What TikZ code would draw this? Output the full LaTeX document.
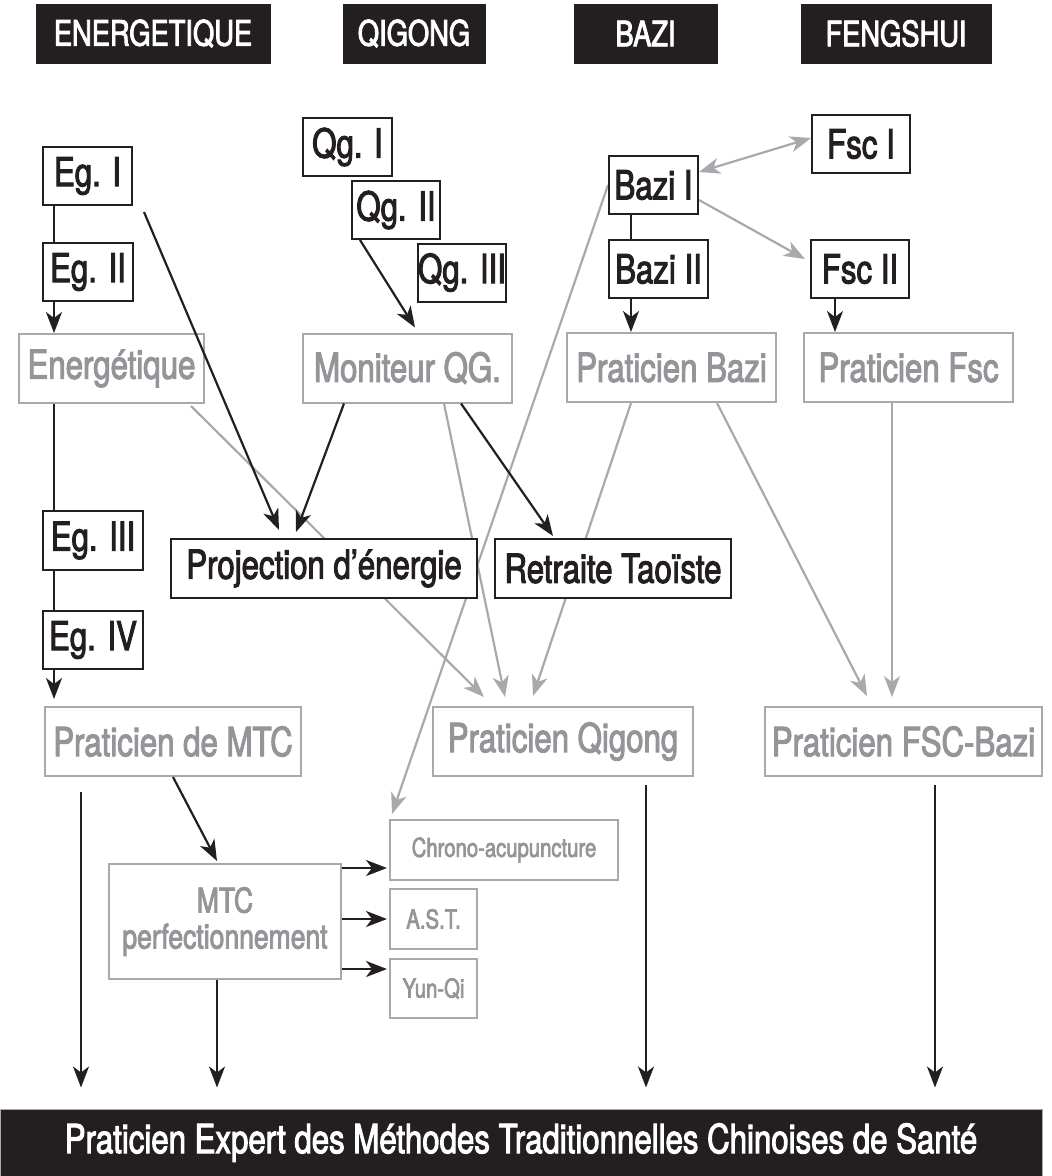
\documentclass[tikz,border=0pt]{standalone}
\usepackage{fontspec}
\setmainfont[FakeStretch=0.8]{TeX Gyre Heros}
\newfontfamily\moyen[FakeStretch=0.78,FakeBold=2.5]{TeX Gyre Heros}
\usetikzlibrary{arrows.meta,calc,backgrounds}
\definecolor{noir}{RGB}{35,31,32}
\definecolor{gristexte}{RGB}{147,149,152}
\definecolor{grisligne}{RGB}{167,169,172}
\tikzset{
  titre/.style={fill=noir,draw=noir,line width=1pt,text=white,inner sep=0pt,
    minimum height=59pt,font=\moyen\fontsize{35}{40}\selectfont},
  cours/.style={draw=noir,fill=white,line width=2pt,text=noir,inner sep=0pt,
    minimum height=58pt,font=\moyen\fontsize{40}{42}\selectfont},
  niveau/.style={draw=grisligne,fill=white,line width=2pt,text=gristexte,inner sep=0pt,
    minimum height=69pt,font=\moyen\fontsize{40}{42}\selectfont},
  option/.style={draw=grisligne,fill=white,line width=2pt,text=gristexte,inner sep=0pt,
    minimum height=60pt,font=\moyen\fontsize{26}{28}\selectfont},
  lien/.style={line width=2.2pt,draw=noir},
  fleche/.style={line width=2.2pt,draw=noir,-{Stealth[length=21pt,width=16pt,inset=6pt]}},
  flecheg/.style={line width=2.2pt,draw=grisligne,-{Stealth[length=21pt,width=16pt,inset=6pt]}},
  flecheg2/.style={line width=2.2pt,draw=grisligne,
    {Stealth[length=21pt,width=16pt,inset=6pt]}-{Stealth[length=21pt,width=16pt,inset=6pt]}}}

\begin{document}
\begin{tikzpicture}[x=1pt,y=-1pt]
\useasboundingbox (0,0) rectangle (1052,1176);

  % en-tetes
\node[titre,minimum width=234pt] (tEnergetique) at (153,33.5) {ENERGETIQUE};
\node[titre,minimum width=142pt] (tQigong) at (414,33.5) {QIGONG};
\node[titre,minimum width=143pt] (tBazi) at (645.5,33.5) {BAZI};
\node[titre,minimum width=190pt] (tFengshui) at (896,33.5) {FENGSHUI};

  % cours
\node[cours,minimum width=89pt] (eg1) at (87.5,176) {Eg. I};
\node[cours,minimum width=90pt] (eg2) at (88,272) {Eg. II};
\node[cours,minimum width=89pt] (qg1) at (347.5,147) {Qg. I};
\node[cours,minimum width=88pt] (qg2) at (396,210) {Qg. II};
\node[cours,minimum width=88pt] (qg3) at (462,272.5) {Qg. III};
\node[cours,minimum width=89pt] (bazi1) at (653.5,185) {Bazi I};
\node[cours,minimum width=99pt] (bazi2) at (658.5,269) {Bazi II};
\node[cours,minimum width=98pt] (fsc1) at (861,144) {Fsc I};
\node[cours,minimum width=98pt] (fsc2) at (860,269) {Fsc II};

  % niveaux
\node[niveau,minimum width=185pt] (energetique) at (111.5,368.5) {Energétique};
\node[niveau,minimum width=209pt] (moniteur) at (407.5,368) {Moniteur QG.};
\node[niveau,minimum width=209pt] (pbazi) at (671.5,367.5) {Praticien Bazi};
\node[niveau,minimum width=209pt] (pfsc) at (908.5,367.5) {Praticien Fsc};

\node[cours,minimum width=100pt,minimum height=59pt] (eg3) at (93,540.5) {Eg. III};
\node[cours,minimum width=100pt] (eg4) at (93,640) {Eg. IV};
\node[cours,minimum width=306pt,minimum height=59pt] (projection) at (324,568.5) {Projection d’énergie};
\node[cours,minimum width=236pt,minimum height=59pt] (retraite) at (613,568.5) {Retraite Taoïste};

\node[niveau,minimum width=256pt] (pmtc) at (173,741.5) {Praticien de MTC};
\node[niveau,minimum width=260pt] (pqigong) at (563,741.5) {Praticien Qigong};
\node[niveau,minimum width=277pt] (pfscbazi) at (903.5,741.5) {Praticien FSC-Bazi};

\node[niveau,minimum width=232pt,minimum height=115pt,align=center,
  font=\moyen\fontsize{34}{36}\selectfont] (mtcperf) at (225,921.5) {MTC\\perfectionnement};
\node[option,minimum width=228pt] (chrono) at (504,850) {Chrono-acupuncture};
\node[option,minimum width=87pt] (ast) at (433.5,919) {A.S.T.};
\node[option,minimum width=87pt,minimum height=59pt] (yunqi) at (433.5,988.5) {Yun-Qi};

\node[titre,draw=grisligne,minimum width=1042pt,minimum height=67pt,
  font=\moyen\fontsize{40}{42}\selectfont] (expert) at (521,1142.5)
  {Praticien Expert des Méthodes Traditionnelles Chinoises de Santé};

  % colonnes
\coordinate (colE) at (54,0);
\coordinate (colB) at (631,0);
\coordinate (colF) at (835,0);
\coordinate (colG) at (892,0);
\coordinate (d1) at (81,0);
\coordinate (d2) at (217,0);
\coordinate (d3) at (646,0);
\coordinate (d4) at (935,0);
\coordinate (r1) at (0,868);
\coordinate (r3) at (0,969);

  % liens gris
\begin{scope}[on background layer]
  \draw[flecheg2] ([yshift=13pt]bazi1.east) -- ([yshift=6pt]fsc1.west);
  \draw[flecheg] ([yshift=-15pt]bazi1.east) -- ([shift={(-5pt,10pt)}]fsc2.west);
  \draw[flecheg] (bazi1.west) -- ([shift={(3pt,5pt)}]chrono.north west);
  \draw[flecheg] ([shift={(-14pt,-2pt)}]energetique.south east) -- ([shift={(-79pt,9pt)}]pqigong.north);
  \draw[flecheg] ([xshift=36.5pt]moniteur.south) -- ([shift={(-58pt,9pt)}]pqigong.north);
  \draw[flecheg] ([xshift=-40.5pt]pbazi.south) -- ([shift={(-30pt,10pt)}]pqigong.north);
  \draw[flecheg] ([xshift=45.5pt]pbazi.south) -- ([shift={(-36.5pt,10pt)}]pfscbazi.north);
  \draw[flecheg,shorten >=9pt] (pfsc.south -| colG) -- (pfscbazi.north -| colG);
\end{scope}

  % liens noirs
\draw[lien] (eg1.south -| colE) -- (eg2.north -| colE);
\draw[fleche] (eg2.south -| colE) -- (energetique.north -| colE);
\draw[lien] (energetique.south -| colE) -- (eg3.north -| colE);
\draw[lien] (eg3.south -| colE) -- (eg4.north -| colE);
\draw[fleche,shorten >=7pt] (eg4.south -| colE) -- (pmtc.north -| colE);
\draw[fleche] ([shift={(11pt,-6pt)}]eg1.south east) -- ([shift={(-45pt,8pt)}]projection.north);
\draw[fleche] ([xshift=9pt]qg2.south west) -- ([shift={(7.5pt,5pt)}]moniteur.north);
\draw[fleche] ([xshift=-63.5pt]moniteur.south) -- ([shift={(-28pt,6pt)}]projection.north);
\draw[fleche] ([xshift=53.5pt]moniteur.south) -- ([shift={(-60pt,2pt)}]retraite.north);
\draw[lien] (bazi1.south -| colB) -- (bazi2.north -| colB);
\draw[fleche] (bazi2.south -| colB) -- (pbazi.north -| colB);
\draw[fleche] (fsc2.south -| colF) -- (pfsc.north -| colF);

\draw[fleche] (pmtc.south) -- ([shift={(-8pt,2pt)}]mtcperf.north);
\draw[fleche,shorten >=2pt] (mtcperf.east |- r1) -- (chrono.west |- r1);
\draw[fleche,shorten >=2pt] (mtcperf.east |- ast.west) -- (ast.west);
\draw[fleche,shorten >=2pt] (mtcperf.east |- r3) -- (yunqi.west |- r3);

\draw[fleche,shorten <=15pt,shorten >=21pt] (pmtc.south -| d1) -- (expert.north -| d1);
\draw[fleche,shorten >=21pt] (mtcperf.south -| d2) -- (expert.north -| d2);
\draw[fleche,shorten <=8pt,shorten >=21pt] (pqigong.south -| d3) -- (expert.north -| d3);
\draw[fleche,shorten <=8pt,shorten >=21pt] (pfscbazi.south -| d4) -- (expert.north -| d4);
\end{tikzpicture}
\end{document}
